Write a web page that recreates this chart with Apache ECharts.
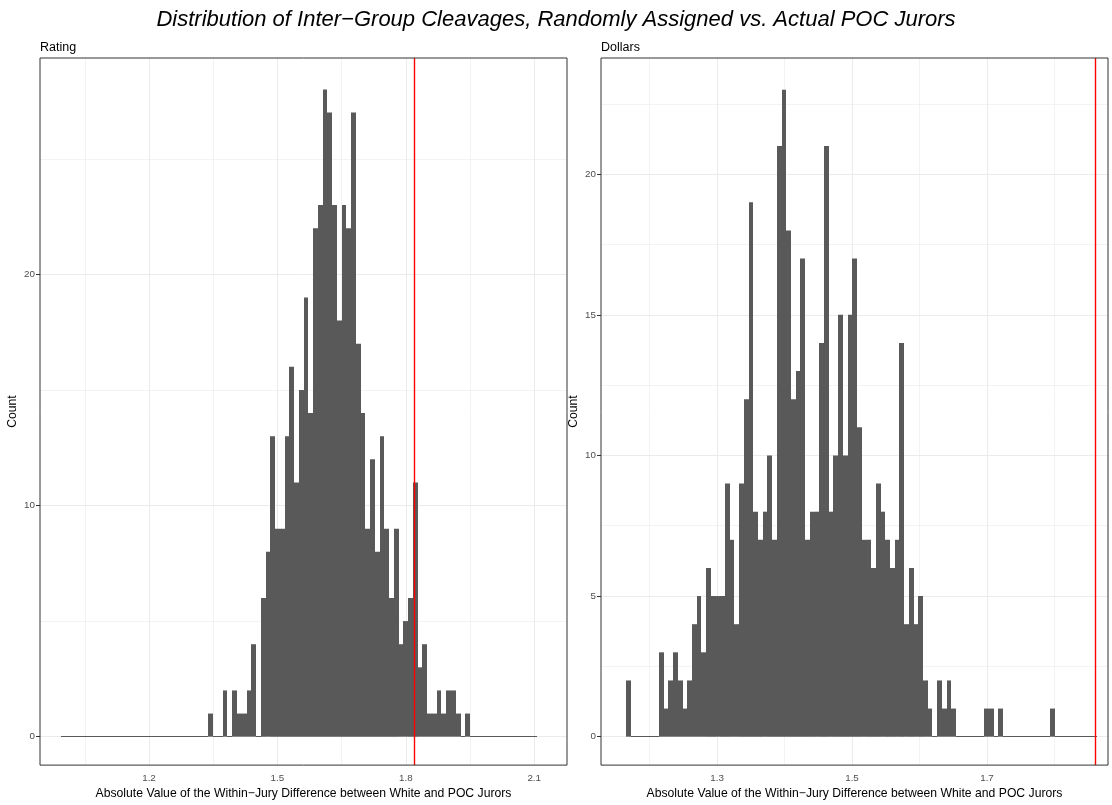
<!DOCTYPE html>
<html><head><meta charset="utf-8">
<script src="https://cdn.jsdelivr.net/npm/echarts@6/dist/echarts.min.js"></script>
<style>html,body{margin:0;padding:0;background:#fff}#c{width:1112px;height:805px}</style>
</head><body><div id="c"></div>
<script>
// ---- data ----
const ratingCounts = [
  0,0,0,0,0,0,0,0,0,0, 0,0,0,0,0,0,0,0,0,0, 0,0,0,0,0,0,0,0,0,0, 0,1,0,0,
  2,0,2,1,1,2,4,0,6,8,13,9,9,13,16,11,15,19,14,22,23,28,27,23,18,23,22,27,17,14,
  9,12,8,13,9,6,9,4,5,6,11,3,4,1,1,2,1,2,2,1,0,1,
  0,0,0,0,0,0,0,0,0,0,0,0,0,0
];
const ratingBinCenters = [1.0, 2.1];      // first and last bin centre (100 bins)
const ratingActual = 1.819;
const ratingXTicks = [1.2, 1.5, 1.8, 2.1];
const ratingXMinor = [1.05, 1.35, 1.65, 1.95];
const ratingYTicks = [0, 10, 20];
const ratingYMinor = [5, 15, 25];

const dollarsCounts = [
  2,0,0,0,0,0,0,3,1,2,3,2,1,2,4,5,3,6,5,5,5,9,7,4,9,12,19,8,7,8,
  10,7,21,23,18,12,13,17,7,8,8,14,21,8,10,15,10,15,17,11,7,7,6,9,8,7,6,7,14,4,
  6,4,5,2,1,0,2,1,2,1,0,0,0,0,0,0,1,1,0,1,0,0,0,0,0,0,0,0,0,0,
  1,0,0,0,0,0,0,0,0,0
];
const dollarsBinCenters = [1.1687, 1.86];
const dollarsActual = 1.86;
const dollarsXTicks = [1.3, 1.5, 1.7];
const dollarsXMinor = [1.2, 1.4, 1.6, 1.8];
const dollarsYTicks = [0, 5, 10, 15, 20];
const dollarsYMinor = [2.5, 7.5, 12.5, 17.5, 22.5];

const FONT = '"Liberation Sans", Arial, Helvetica, sans-serif';
const XTITLE = 'Absolute Value of the Within\u2212Jury Difference between White and POC Jurors';

function bins(counts, centers) {
  const n = counts.length, w = (centers[1] - centers[0]) / (n - 1);
  return counts.map((c, k) => {
    const m = centers[0] + k * w;
    return [m - w / 2, m + w / 2, c];
  });
}

function renderBin(params, api) {
  const x0 = api.value(0), x1 = api.value(1), c = api.value(2);
  const p0 = api.coord([x0, 0]), p1 = api.coord([x1, c]);
  const l = Math.round(p0[0]), r = Math.round(p1[0]);
  if (c === 0) {
    const y = Math.round(p0[1]) - 0.5;
    return {type: 'line', shape: {x1: l, y1: y, x2: r, y2: y},
            style: {stroke: '#595959', lineWidth: 1}};
  }
  return {type: 'rect', shape: {x: l, y: p1[1], width: r - l, height: p0[1] - p1[1]},
          style: {fill: '#595959'}};
}

function gridLines(gi, xMaj, xMin, yMaj, yMin) {
  const d = [];
  xMin.forEach(v => d.push({xAxis: v, lineStyle: {width: 0.6}}));
  yMin.forEach(v => d.push({yAxis: v, lineStyle: {width: 0.6}}));
  xMaj.forEach(v => d.push({xAxis: v, lineStyle: {width: 1}}));
  yMaj.forEach(v => d.push({yAxis: v, lineStyle: {width: 1}}));
  return {
    type: 'line', xAxisIndex: gi, yAxisIndex: gi, data: [], z: 1, silent: true,
    markLine: {z: 1, silent: true, symbol: ['none', 'none'], animation: false,
      label: {show: false}, lineStyle: {color: '#EBEBEB', type: 'solid'}, data: d}
  };
}

function xAxis(gi, min, max, ticks) {
  return {
    type: 'value', gridIndex: gi, min: min, max: max,
    axisLine: {show: false}, splitLine: {show: false},
    axisTick: {show: true, customValues: ticks, length: 4, lineStyle: {color: '#333333', width: 1}},
    axisLabel: {customValues: ticks, margin: 8, fontSize: 9.8, color: '#4D4D4D', fontFamily: FONT,
      formatter: v => v.toFixed(1)},
    name: XTITLE, nameLocation: 'middle', nameGap: 21,
    nameTextStyle: {fontSize: 12.2, color: '#000', fontFamily: FONT}
  };
}
function yAxis(gi, min, max, ticks) {
  return {
    type: 'value', gridIndex: gi, min: min, max: max,
    axisLine: {show: false}, splitLine: {show: false},
    axisTick: {show: true, customValues: ticks, length: 4, lineStyle: {color: '#333333', width: 1}},
    axisLabel: {customValues: ticks, margin: 5, fontSize: 9.8, color: '#4D4D4D', fontFamily: FONT,
      formatter: v => String(v)},
    name: 'Count', nameLocation: 'middle', nameGap: 21, nameRotate: 90,
    nameTextStyle: {fontSize: 12.2, color: '#000', fontFamily: FONT}
  };
}
function vline(gi, v) {
  return {
    type: 'line', xAxisIndex: gi, yAxisIndex: gi, data: [], z: 6, silent: true,
    markLine: {z: 6, silent: true, symbol: ['none', 'none'], animation: false, label: {show: false},
      lineStyle: {color: '#FF0000', type: 'solid', width: 1.4}, data: [{xAxis: v}]}
  };
}

const chart = echarts.init(document.getElementById('c'), null, {renderer: 'canvas'});
chart.setOption({
  animation: false,
  backgroundColor: '#FFFFFF',
  title: [
    {text: 'Distribution of Inter\u2212Group Cleavages, Randomly Assigned vs. Actual POC Jurors',
     left: 'center', top: 9, padding: 0,
     textStyle: {fontSize: 22, fontStyle: 'italic', fontWeight: 'normal', color: '#000', fontFamily: FONT}},
    {text: 'Rating', left: 40, top: 41, padding: 0,
     textStyle: {fontSize: 12.5, fontWeight: 'normal', color: '#000', fontFamily: FONT}},
    {text: 'Dollars', left: 601, top: 41, padding: 0,
     textStyle: {fontSize: 12.5, fontWeight: 'normal', color: '#000', fontFamily: FONT}}
  ],
  grid: [
    {left: 40, top: 58, width: 527, height: 712, show: true, borderColor: '#333333', borderWidth: 1, backgroundColor: 'transparent', z: 10},
    {left: 601, top: 58, width: 507, height: 712, show: true, borderColor: '#333333', borderWidth: 1, backgroundColor: 'transparent', z: 10}
  ],
  xAxis: [xAxis(0, 0.9453, 2.1766, ratingXTicks), xAxis(1, 1.1281, 1.8793, dollarsXTicks)],
  yAxis: [yAxis(0, -1.23, 29.36, ratingYTicks), yAxis(1, -1.01, 24.13, dollarsYTicks)],
  series: [
    gridLines(0, ratingXTicks, ratingXMinor, ratingYTicks, ratingYMinor),
    gridLines(1, dollarsXTicks, dollarsXMinor, dollarsYTicks, dollarsYMinor),
    {type: 'custom', xAxisIndex: 0, yAxisIndex: 0, z: 3, silent: true, renderItem: renderBin,
     encode: {x: [0, 1], y: 2}, data: bins(ratingCounts, ratingBinCenters)},
    {type: 'custom', xAxisIndex: 1, yAxisIndex: 1, z: 3, silent: true, renderItem: renderBin,
     encode: {x: [0, 1], y: 2}, data: bins(dollarsCounts, dollarsBinCenters)},
    vline(0, ratingActual),
    vline(1, dollarsActual)
  ]
});
</script></body></html>
